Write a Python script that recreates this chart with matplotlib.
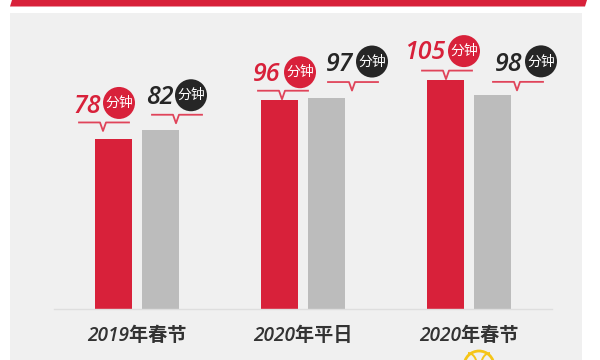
import matplotlib
matplotlib.use("Agg")
import matplotlib.pyplot as plt
from matplotlib.patches import Rectangle, Polygon, Circle, Arc, Ellipse

categories = ["2019年春节", "2020年平日", "2020年春节"]
red_values = [78, 96, 105]
gray_values = [82, 97, 98]
unit = "分钟"

RED = "#d8213a"
GRAY = "#bcbcbc"
DARK = "#262626"
PANEL = "#f0f0f0"
W, H = 600, 360
NUM_FONT = ["Open Sans", "Noto Sans CJK SC"]
CJK_FONT = ["Noto Sans CJK SC"]

fig = plt.figure(figsize=(W / 100, H / 100), dpi=100, facecolor="white")

# full-figure layer in pixel coordinates for the page furniture
bg = fig.add_axes([0, 0, 1, 1], zorder=0)
bg.set_xlim(0, W)
bg.set_ylim(H, 0)
bg.axis("off")
bg.add_patch(Rectangle((10, 13), 572, 347, fc=PANEL, ec="none"))
bg.add_patch(Polygon([(12, 0), (587, 0), (585, 6.5), (10, 6.5)], fc=RED, ec="none"))

# decorative yellow badge, cut off by the lower edge
bg.add_patch(Circle((479, 366), 15, fc="none", ec="#f5c518", lw=2))
bg.add_patch(Arc((468, 366), 18, 26, theta1=270, theta2=360, ec="#f5c518", lw=1.4))
bg.add_patch(Arc((490, 366), 18, 26, theta1=180, theta2=270, ec="#f5c518", lw=1.4))

# chart axes: baseline at y=309 px, x 54..552 px, 2.18 px per unit
left, right, base, top = 54, 552, 309, 13
ax = fig.add_axes([left / W, 1 - base / H, (right - left) / W, (base - top) / H],
                  zorder=1, facecolor="none")
ax.set_xlim(-0.5, 2.5)
ax.set_ylim(0, (base - top) / 2.18)
px_x = (right - left) / 3

bar_w = 37 / px_x
off = 23.5 / px_x
xs = list(range(len(categories)))
red_x = [x - off for x in xs]
gray_x = [x + off for x in xs]
ax.bar(red_x, red_values, width=bar_w, color=RED)
ax.bar(gray_x, gray_values, width=bar_w, color=GRAY)

for s in ("top", "left", "right"):
    ax.spines[s].set_visible(False)
ax.spines["bottom"].set_color("#dedede")
ax.spines["bottom"].set_linewidth(1)
ax.set_yticks([])
ax.set_xticks(xs)
ax.set_xticklabels(categories, family=NUM_FONT, fontsize=13.8, fontweight="semibold",
                   style="italic", color="#333333")
ax.tick_params(axis="x", length=0, pad=12)


def callout(x, v, dx_tip, tip_gap, num_dx, num_dy, cx, cy, color):
    """Offsets are in pixels relative to the bar top; positive up."""
    x0, y0 = ax.transData.transform((x, v))
    inv = fig.transFigure.inverted()

    def P(dx, dy):
        return inv.transform((x0 + dx, y0 + dy))

    # leader line with a small notch
    ly = tip_gap + 8.5
    line = [P(dx_tip - 24, ly), P(dx_tip - 3, ly), P(dx_tip, tip_gap), P(dx_tip + 3, ly), P(dx_tip + 26, ly)]
    fig.add_artist(plt.Line2D([p[0] for p in line], [p[1] for p in line], color="#e0445a",
                              lw=1.3, transform=fig.transFigure, zorder=3))
    c = P(cx, cy)
    fig.add_artist(Ellipse(c, 32 / W, 32 / H, fc=color, ec="none",
                           transform=fig.transFigure, zorder=3))
    fig.text(c[0], c[1], unit, color="white", fontsize=10, family=CJK_FONT, fontweight="medium",
             ha="center", va="center", zorder=4)
    n = P(num_dx, num_dy)
    fig.text(n[0], n[1], str(v), color=color, fontsize=18, family=NUM_FONT, style="italic",
             fontweight="semibold", ha="right", va="center", zorder=4)


# pixel offsets from each bar's top-centre
red_layout = [(-10.5, 8, -13, 32.5, 5.5, 36),
              (2.5, 0.5, 1, 25, 20.5, 27.5),
              (0.5, 1, -0.5, 27.5, 18.5, 29)]
gray_layout = [(15.5, 7, 13, 32.5, 30.5, 35),
               (25.5, 7, 27, 33.5, 45.5, 36),
               (24.5, 5, 30, 30.5, 48.5, 34)]

for x, v, lay in zip(red_x, red_values, red_layout):
    callout(x, v, *lay, RED)
for x, v, lay in zip(gray_x, gray_values, gray_layout):
    callout(x, v, *lay, DARK)

fig.savefig("out.png", dpi=100, facecolor="white")
